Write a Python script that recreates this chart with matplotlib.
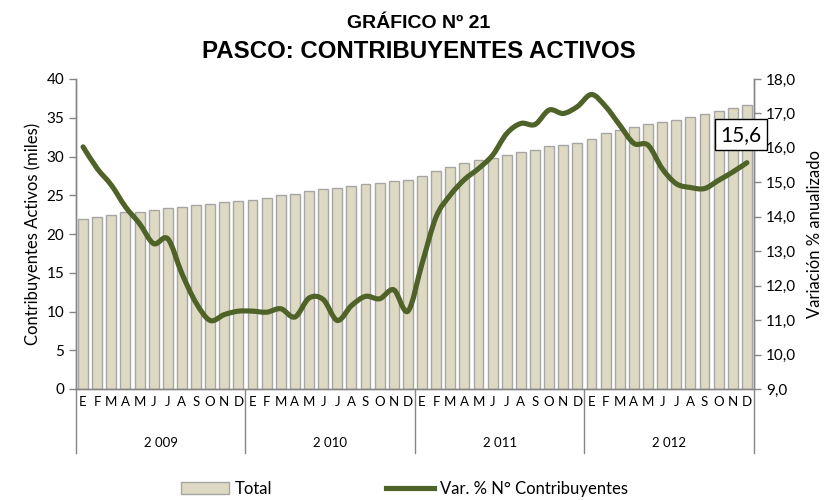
import matplotlib
matplotlib.use("Agg")
import matplotlib.pyplot as plt
from matplotlib.path import Path
from matplotlib.patches import PathPatch
from matplotlib.lines import Line2D
from matplotlib.patches import Patch
import matplotlib.transforms as mtransforms
import numpy as np

# --- data ---
years = ["2 009", "2 010", "2 011", "2 012"]
months = ["E", "F", "M", "A", "M", "J", "J", "A", "S", "O", "N", "D"]

total_miles = [
    21.9, 22.2, 22.4, 22.8, 22.9, 23.1, 23.4, 23.5, 23.7, 23.9, 24.1, 24.2,
    24.4, 24.7, 25.0, 25.2, 25.5, 25.8, 25.9, 26.2, 26.5, 26.6, 26.9, 27.0,
    27.5, 28.1, 28.7, 29.1, 29.5, 29.8, 30.2, 30.6, 30.9, 31.3, 31.5, 31.7,
    32.3, 33.0, 33.4, 33.8, 34.2, 34.5, 34.7, 35.1, 35.5, 35.9, 36.3, 36.6,
]
var_pct = [
    16.03, 15.40, 14.92, 14.29, 13.80, 13.22, 13.36, 12.35, 11.50, 10.99, 11.16, 11.26,
    11.26, 11.23, 11.33, 11.09, 11.64, 11.60, 10.99, 11.42, 11.69, 11.62, 11.88, 11.26,
    12.64, 14.00, 14.63, 15.08, 15.40, 15.79, 16.42, 16.71, 16.68, 17.10, 17.00, 17.20,
    17.55, 17.20, 16.66, 16.13, 16.08, 15.40, 14.96, 14.85, 14.82, 15.06, 15.30, 15.57,
]
last_label = "15,6"

BAR_FACE = "#DDD9C3"
BAR_EDGE = "#A6A6A6"
LINE_COL = "#4F6228"
AXIS_COL = "#868686"

plt.rcParams["font.family"] = ["Lato", "DejaVu Sans"]

fig = plt.figure(figsize=(8.37, 5.0), dpi=100)
ax = fig.add_axes([0.0908, 0.222, 0.810, 0.620])
ax2 = ax.twinx()

x = np.arange(len(total_miles))
ax.bar(x, total_miles, width=0.7, color=BAR_FACE, edgecolor=BAR_EDGE, linewidth=1.0, zorder=2)

# smoothed line (Excel-style), built from the data points as Bezier segments
pts = np.column_stack([x, var_pct]).astype(float)
verts = [tuple(pts[0])]
codes = [Path.MOVETO]
n = len(pts)
for i in range(n - 1):
    p0 = pts[i - 1] if i > 0 else pts[i]
    p1 = pts[i]
    p2 = pts[i + 1]
    p3 = pts[i + 2] if i + 2 < n else pts[i + 1]
    c1 = p1 + (p2 - p0) / 6.0
    c2 = p2 - (p3 - p1) / 6.0
    verts += [tuple(c1), tuple(c2), tuple(p2)]
    codes += [Path.CURVE4] * 3
ax2.add_patch(PathPatch(Path(verts, codes), facecolor="none", edgecolor=LINE_COL,
                        linewidth=3.7, capstyle="round", joinstyle="round", zorder=3))

ax2.annotate(last_label, xy=(x[-1], var_pct[-1]), xytext=(-6, 28), textcoords="offset pixels",
             ha="center", va="center", fontsize=15,
             bbox=dict(boxstyle="square,pad=0.25", facecolor="white", edgecolor="black", linewidth=1.0))

# axes limits / ticks
ax.set_xlim(-0.5, len(x) - 0.5)
ax.set_ylim(0, 40)
ax.set_yticks(range(0, 41, 5))
ax2.set_ylim(9, 18)
ax2.set_yticks(np.arange(9, 18.1, 1))
ax2.set_yticklabels([f"{v:.1f}".replace(".", ",") for v in np.arange(9, 18.1, 1)])

ax.set_xticks(x)
ax.set_xticklabels(months * len(years), fontsize=9.5)
ax.tick_params(axis="x", length=0, pad=5)
ax.tick_params(axis="y", colors=AXIS_COL, labelcolor="black", labelsize=11, length=5, width=1)
ax2.tick_params(axis="y", colors=AXIS_COL, labelcolor="black", labelsize=11, length=5, width=1)

for a in (ax, ax2):
    a.spines["top"].set_visible(False)
    for s in ("left", "right", "bottom"):
        a.spines[s].set_color(AXIS_COL)
        a.spines[s].set_linewidth(1.0)

ax.set_ylabel("Contribuyentes Activos (miles)", fontsize=12, labelpad=4)
ax2.set_ylabel("Variación % anualizado", fontsize=12, labelpad=8)

# year separators and labels under the month row
trans = mtransforms.blended_transform_factory(ax.transData, ax.transAxes)
for k in range(len(years) + 1):
    xs = k * 12 - 0.5
    ax.add_line(Line2D([xs, xs], [0, -0.206], transform=trans, color=AXIS_COL,
                       linewidth=1.0, clip_on=False))
for k, yr in enumerate(years):
    ax.text(k * 12 + 5.5, -0.175, yr, transform=trans, ha="center", va="center", fontsize=9.5)

fig.text(0.5, 0.953, "GRÁFICO Nº 21", ha="center", va="center", fontsize=14,
         fontweight="bold", family=["Liberation Sans", "DejaVu Sans"])
fig.text(0.5, 0.898, "PASCO: CONTRIBUYENTES ACTIVOS", ha="center", va="center", fontsize=17.3,
         fontweight="bold", family=["Liberation Sans", "DejaVu Sans"])

handles = [Patch(facecolor=BAR_FACE, edgecolor=BAR_EDGE, linewidth=1.0),
           Line2D([0], [0], color=LINE_COL, linewidth=3.7)]
fig.legend(handles, ["Total", "Var. % N° Contribuyentes"], loc="center", ncol=2,
           bbox_to_anchor=(0.483, 0.022), frameon=False, fontsize=12,
           handlelength=2.9, handletextpad=0.35, columnspacing=6.8)

fig.savefig("out.png", dpi=100)
